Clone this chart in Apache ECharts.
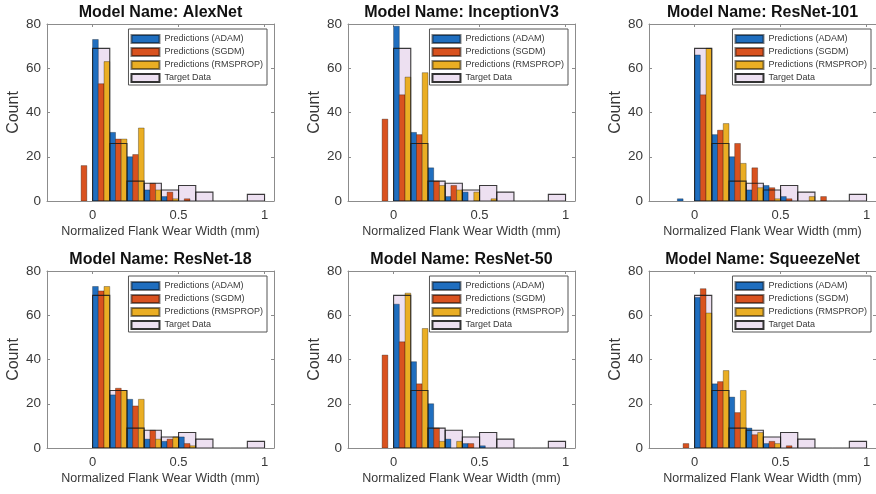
<!DOCTYPE html>
<html>
<head>
<meta charset="utf-8">
<script src="https://cdn.jsdelivr.net/npm/echarts@6/dist/echarts.min.js"></script>
<style>
html, body { margin: 0; padding: 0; background: #fff; }
#chart { width: 876px; height: 494px; }
</style>
</head>
<body>
<div id="chart"></div>
<script>
// histogram bins (left edges), width 0.1
var predBinEdges = [-0.1, 0, 0.1, 0.2, 0.3, 0.4, 0.5, 0.6, 0.7, 0.8, 0.9];
var targetBinEdges = [0, 0.1, 0.2, 0.3, 0.4, 0.5, 0.6, 0.7, 0.8, 0.9];
var targetCounts = [69, 26, 9, 8, 5, 7, 4, 0, 0, 3];

var modelNames = ['AlexNet', 'InceptionV3', 'ResNet-101', 'ResNet-18', 'ResNet-50', 'SqueezeNet'];
var optNames = ['Predictions (ADAM)', 'Predictions (SGDM)', 'Predictions (RMSPROP)'];
var targetName = 'Target Data';

var alexnetAdam = [0, 73, 31, 20, 5, 2, 0, 0, 0, 0, 0];
var alexnetSgdm = [16, 53, 28, 21, 8, 4, 1, 0, 0, 0, 0];
var alexnetRms  = [0, 63, 28, 33, 5, 1, 0, 0, 0, 0, 0];

var inceptionAdam = [0, 79, 31, 15, 2, 4, 0, 0, 0, 0, 0];
var inceptionSgdm = [37, 48, 30, 9, 7, 0, 0, 0, 0, 0, 0];
var inceptionRms  = [0, 56, 58, 7, 5, 4, 1, 0, 0, 0, 0];

var resnet101Adam = [1, 66, 30, 20, 5, 7, 2, 0, 0, 0, 0];
var resnet101Sgdm = [0, 48, 32, 26, 15, 6, 1, 0, 2, 0, 0];
var resnet101Rms  = [0, 69, 35, 17, 6, 1, 0, 2, 0, 0, 0];

var resnet18Adam = [0, 73, 24, 22, 4, 3, 5, 0, 0, 0, 0];
var resnet18Sgdm = [0, 71, 27, 19, 8, 4, 2, 0, 0, 0, 0];
var resnet18Rms  = [0, 73, 26, 22, 4, 5, 1, 0, 0, 0, 0];

var resnet50Adam = [0, 65, 39, 20, 4, 2, 1, 0, 0, 0, 0];
var resnet50Sgdm = [42, 48, 29, 9, 0, 2, 0, 0, 0, 0, 0];
var resnet50Rms  = [0, 70, 54, 3, 3, 0, 0, 0, 0, 0, 0];

var squeezeAdam = [0, 68, 29, 23, 9, 2, 0, 0, 0, 0, 0];
var squeezeSgdm = [2, 72, 30, 16, 6, 3, 1, 0, 0, 0, 0];
var squeezeRms  = [0, 61, 35, 26, 7, 2, 0, 0, 0, 0, 0];

var xTicks = [0, 0.5, 1];

var predCounts = [
    [alexnetAdam, alexnetSgdm, alexnetRms],
    [inceptionAdam, inceptionSgdm, inceptionRms],
    [resnet101Adam, resnet101Sgdm, resnet101Rms],
    [resnet18Adam, resnet18Sgdm, resnet18Rms],
    [resnet50Adam, resnet50Sgdm, resnet50Rms],
    [squeezeAdam, squeezeSgdm, squeezeRms]
];

var optColors = ['#1f6ebf', '#d9521f', '#eaae24'];
var targetFill = '#ede0f1';
var axisGray = '#8c8c8c';
var textGray = '#383838';
var fontFam = '"Liberation Sans", Arial, sans-serif';
var binWidth = 0.1;

var colLeft = [47, 348, 649];
var rowTop = [24, 271];
var legendRight = [609, 308, 5];

function barRects(edges, counts, slot, nSlots) {
    var out = [];
    for (var i = 0; i < edges.length; i++) {
        if (!counts[i]) continue;
        var x0 = edges[i] + slot * binWidth / nSlots;
        out.push([x0, x0 + binWidth / nSlots, counts[i]]);
    }
    return out;
}

function rectFrom(api) {
    var a = api.coord([api.value(0), 0]);
    var b = api.coord([api.value(1), api.value(2)]);
    return { x: a[0], y: b[1], width: b[0] - a[0], height: a[1] - b[1] };
}

function renderBar(params, api) {
    return { type: 'rect', shape: rectFrom(api), style: api.style() };
}

function renderTargetFill(params, api) {
    return { type: 'rect', shape: rectFrom(api), style: { fill: targetFill, stroke: null } };
}

function renderTargetEdge(params, api) {
    return { type: 'rect', shape: rectFrom(api), style: { fill: 'none', stroke: 'rgba(25,25,25,0.85)', lineWidth: 1.1 } };
}

var grids = [], xAxes = [], yAxes = [], legends = [], series = [];

modelNames.forEach(function (model, p) {
    var col = p % 3, row = Math.floor(p / 3);
    grids.push({ left: colLeft[col], top: rowTop[row], width: 227, height: 177 });

    var tickStyle = { show: true, inside: true, length: 3, customValues: xTicks, lineStyle: { color: axisGray } };
    xAxes.push({
        gridIndex: p, type: 'value', min: -0.265, max: 1.055, position: 'bottom',
        axisLine: { show: true, onZero: false, lineStyle: { color: axisGray } },
        axisTick: tickStyle,
        axisLabel: { customValues: xTicks, fontSize: 13, color: textGray, margin: 8, fontFamily: fontFam },
        splitLine: { show: false },
        name: 'Normalized Flank Wear Width (mm)', nameLocation: 'middle', nameGap: 24,
        nameTextStyle: { fontSize: 12.5, color: textGray, fontFamily: fontFam }
    });
    xAxes.push({
        gridIndex: p, type: 'value', min: -0.265, max: 1.055, position: 'top',
        axisLine: { show: true, onZero: false, lineStyle: { color: axisGray } },
        axisTick: tickStyle,
        axisLabel: { show: false },
        splitLine: { show: false },
        name: 'Model Name: ' + model, nameLocation: 'middle', nameGap: 3,
        nameTextStyle: { fontSize: 16, fontWeight: 'bold', color: '#111', fontFamily: fontFam }
    });
    var yTick = { show: true, inside: true, length: 3, lineStyle: { color: axisGray } };
    yAxes.push({
        gridIndex: p, type: 'value', min: 0, max: 80, interval: 20, position: 'left',
        axisLine: { show: true, onZero: false, lineStyle: { color: axisGray } },
        axisTick: yTick,
        axisLabel: { fontSize: 13.5, color: textGray, margin: 6, fontFamily: fontFam },
        splitLine: { show: false },
        name: 'Count', nameLocation: 'middle', nameGap: 25,
        nameTextStyle: { fontSize: 16, color: textGray, fontFamily: fontFam }
    });
    yAxes.push({
        gridIndex: p, type: 'value', min: 0, max: 80, interval: 20, position: 'right',
        axisLine: { show: true, onZero: false, lineStyle: { color: axisGray } },
        axisTick: yTick,
        axisLabel: { show: false },
        splitLine: { show: false }
    });

    var xi = p * 2, yi = p * 2;
    var targetRects = targetBinEdges.map(function (e, i) { return [e, e + binWidth, targetCounts[i]]; });

    series.push({
        type: 'custom', name: targetName, xAxisIndex: xi, yAxisIndex: yi, clip: true,
        renderItem: renderTargetFill, encode: { x: [0, 1], y: 2 },
        itemStyle: { color: targetFill, borderColor: '#333', borderWidth: 1 },
        data: targetRects, silent: true
    });
    optNames.forEach(function (name, k) {
        series.push({
            type: 'custom', name: name, xAxisIndex: xi, yAxisIndex: yi, clip: true,
            renderItem: renderBar, encode: { x: [0, 1], y: 2 },
            itemStyle: { color: optColors[k], borderColor: 'rgba(0,0,0,0.5)', borderWidth: 0.6 },
            data: barRects(predBinEdges, predCounts[p][k], k, 3), silent: true
        });
    });
    series.push({
        type: 'custom', name: targetName + ' ', xAxisIndex: xi, yAxisIndex: yi, clip: true,
        renderItem: renderTargetEdge, encode: { x: [0, 1], y: 2 },
        data: targetRects, silent: true
    });

    legends.push({
        orient: 'vertical', right: legendRight[col], top: rowTop[row] + 5,
        icon: 'rect', itemWidth: 28, itemHeight: 8, itemGap: 3,
        padding: [5, 4, 2, 2], backgroundColor: '#fff', borderColor: '#555', borderWidth: 1,
        selectedMode: false,
        textStyle: { fontSize: 9, color: textGray, fontFamily: fontFam, lineHeight: 9 },
        data: optNames.concat([targetName])
    });
});

var chart = echarts.init(document.getElementById('chart'));
chart.setOption({
    backgroundColor: '#fff',
    animation: false,
    grid: grids,
    xAxis: xAxes,
    yAxis: yAxes,
    legend: legends,
    series: series
});
</script>
</body>
</html>
